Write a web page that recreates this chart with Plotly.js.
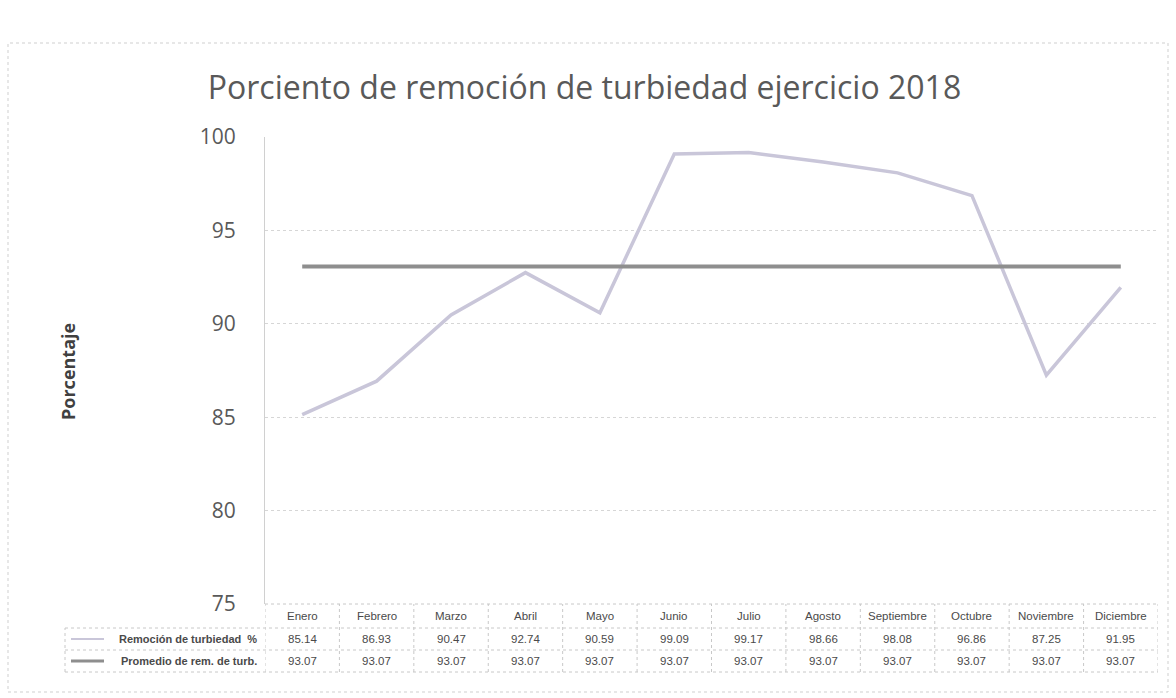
<!DOCTYPE html>
<html>
<head>
<meta charset="utf-8">
<script src="https://cdn.plot.ly/plotly-3.0.1.min.js"></script>
<style>html,body{margin:0;padding:0;background:#fff;}#chart{width:1176px;height:698px;}</style>
</head>
<body>
<div id="chart"></div>
<script>
const months = ["Enero","Febrero","Marzo","Abril","Mayo","Junio","Julio","Agosto","Septiembre","Octubre","Noviembre","Diciembre"];
const remocion = [85.14,86.93,90.47,92.74,90.59,99.09,99.17,98.66,98.08,96.86,87.25,91.95];
const promedio = [93.07,93.07,93.07,93.07,93.07,93.07,93.07,93.07,93.07,93.07,93.07,93.07];
const seriesNames = ["Remoción de turbiedad  %","Promedio de rem. de turb."];
const chartTitle = "Porciento de remoción de turbiedad ejercicio 2018";
const yTitle = "Porcentaje";

const W = 1176, H = 698;
const plotL = 265, plotR = 1158, plotT = 137, plotB = 604;
const tabL = 65;
const rowY = [604, 628, 650, 672];   // table row boundaries (px)
const c1 = "#c9c6d9", c2 = "#8e8e8e";
const gridC = "#c8c8c8";
const py = p => 1 - p/H;
const px = p => p/W;
const fmt = v => v.toFixed(2);
const tabFont = {family:"Liberation Sans, Arial", size:11.5, color:"#4a4a4a"};

const series = [remocion, promedio];
const colors = [c1, c2];

const traces = [
  {type:"scatter", mode:"lines", x:months, y:remocion, name:seriesNames[0],
   line:{color:c1, width:3.5}},
  {type:"scatter", mode:"lines", x:months, y:promedio, name:seriesNames[1],
   line:{color:c2, width:4}}
];

const shapes = [
  {type:"rect", xref:"paper", yref:"paper", x0:px(8), x1:px(1168), y0:py(692), y1:py(43),
   line:{color:"#cfcfcf", width:1, dash:"dot"}, fillcolor:"rgba(0,0,0,0)", layer:"below"}
];
shapes.push({type:"line", xref:"paper", yref:"paper", x0:px(plotL), x1:px(plotR), y0:py(rowY[0]), y1:py(rowY[0]),
  line:{color:gridC, width:1, dash:"dot"}});
for (let r=1; r<rowY.length; r++) {
  shapes.push({type:"line", xref:"paper", yref:"paper", x0:px(tabL), x1:px(plotR), y0:py(rowY[r]), y1:py(rowY[r]),
    line:{color:gridC, width:1, dash:"dot"}});
}
for (let i=0; i<=months.length; i++) {
  shapes.push({type:"line", xref:"x", yref:"paper", x0:i-0.5, x1:i-0.5, y0:py(rowY[3]), y1:py(rowY[0]),
    line:{color:gridC, width:1, dash:"dot"}});
}
shapes.push({type:"line", xref:"paper", yref:"paper", x0:px(tabL), x1:px(tabL), y0:py(rowY[3]), y1:py(rowY[1]),
  line:{color:gridC, width:1, dash:"dot"}});
for (let s=0; s<2; s++) {
  const yc = (rowY[s+1]+rowY[s+2])/2;
  shapes.push({type:"line", xref:"paper", yref:"paper", x0:px(71), x1:px(104), y0:py(yc), y1:py(yc),
    line:{color:colors[s], width:s===0?2:3}});
}

const annotations = [
  {text:"<b>"+yTitle+"</b>", xref:"paper", yref:"paper", x:px(68), y:py(372), textangle:-90,
   showarrow:false, xanchor:"center", yanchor:"middle",
   font:{family:"Open Sans, Noto Sans, sans-serif", size:18, color:"#404040"}}
];
months.forEach((m,i)=>{
  annotations.push({text:m, xref:"x", yref:"paper", x:i, y:py((rowY[0]+rowY[1])/2), showarrow:false,
    xanchor:"center", yanchor:"middle", font:tabFont});
  series.forEach((arr,s)=>{
    annotations.push({text:fmt(arr[i]), xref:"x", yref:"paper", x:i, y:py((rowY[s+1]+rowY[s+2])/2),
      showarrow:false, xanchor:"center", yanchor:"middle", font:tabFont});
  });
});
seriesNames.forEach((n,s)=>{
  annotations.push({text:"<b>"+n+"</b>", xref:"paper", yref:"paper", x:px(plotL-6), y:py((rowY[s+1]+rowY[s+2])/2),
    showarrow:false, xanchor:"right", yanchor:"middle", font:{...tabFont, size:11}});
});

const layout = {
  width:W, height:H, margin:{l:0,r:0,t:0,b:0},
  paper_bgcolor:"#ffffff", plot_bgcolor:"#ffffff",
  showlegend:false,
  title:{text:chartTitle, x:0.497, xanchor:"center", y:py(88), yanchor:"middle",
    font:{family:"Open Sans, Noto Sans, sans-serif", size:32, color:"#595959"}},
  xaxis:{domain:[px(plotL), px(plotR)], type:"category", showticklabels:false, showgrid:false,
    zeroline:false, showline:false, ticks:"", range:[-0.5, 11.5]},
  yaxis:{domain:[py(plotB), py(plotT)], range:[75,100], dtick:5, tickmode:"linear", tick0:75,
    showgrid:true, gridcolor:"#d6d6d6", gridwidth:1, griddash:"dot",
    showline:true, linecolor:"#d0d0d0", linewidth:1, zeroline:false, ticks:"",
    ticklabelstandoff:24,
    tickfont:{family:"Open Sans, Noto Sans, sans-serif", size:21, color:"#595959"}},
  shapes:shapes,
  annotations:annotations
};

Plotly.newPlot("chart", traces, layout, {displayModeBar:false, staticPlot:true});
</script>
</body>
</html>
